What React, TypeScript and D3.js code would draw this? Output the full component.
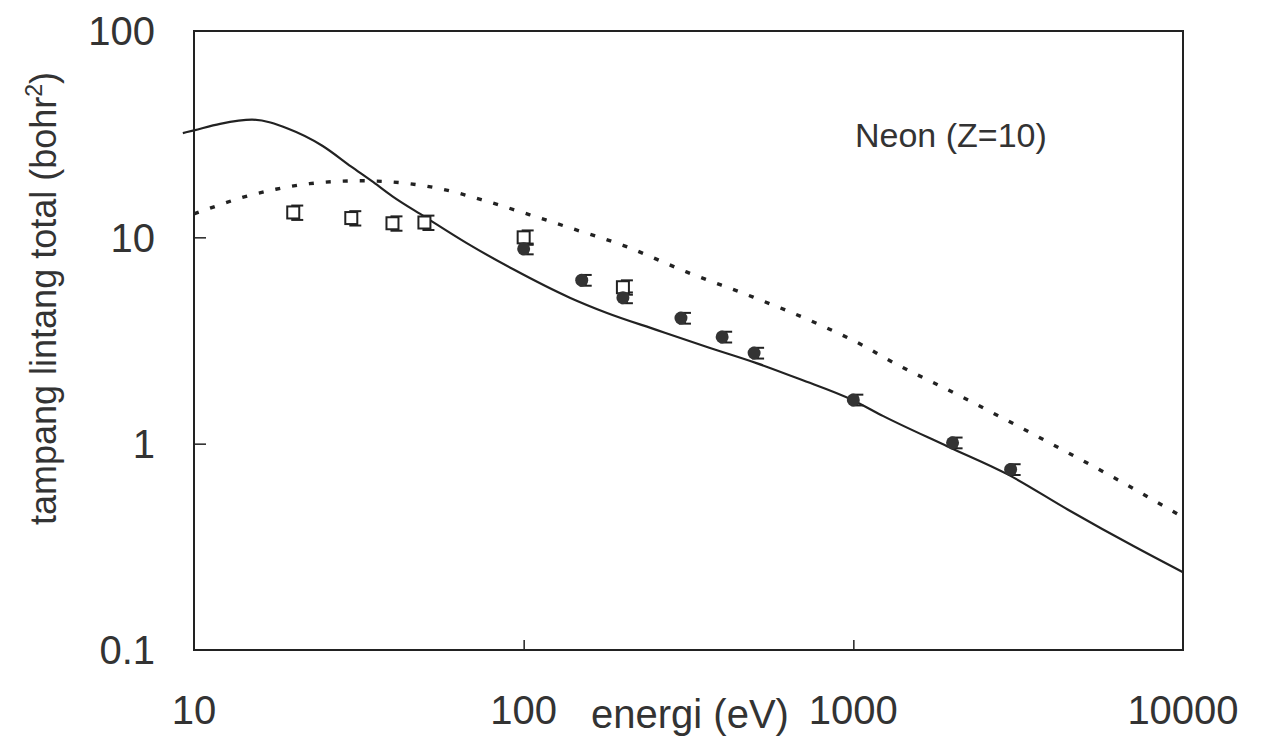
import { useRef, useEffect } from "react";
import * as d3 from "d3";

const WIDTH = 1261;
const HEIGHT = 754;
const LEFT = 194;
const RIGHT = 1183;
const TOP = 31;
const BOTTOM = 650;

const X_TICKS = [10, 100, 1000, 10000];
const Y_TICKS = [0.1, 1, 10, 100];

// teori (garis penuh)
const SOLID_E = [9.25, 10, 12, 15, 19.4, 24.5, 30, 35, 40, 50, 67, 93, 138, 179, 254, 360, 511, 690, 1000, 1233, 1931, 2939, 4467, 7096, 10000];
const SOLID_S = [32, 33, 35.5, 37.2, 33.5, 27.8, 22, 18.5, 15.8, 12.6, 9.4, 7.0, 5.1, 4.3, 3.55, 2.94, 2.45, 2.05, 1.62, 1.36, 0.97, 0.71, 0.48, 0.318, 0.238];

// teori (garis titik-titik)
const DOT_E = [10, 10.7, 14, 17.7, 22.4, 31.8, 45, 56.8, 78.9, 112, 141, 200, 313, 497, 794, 1104, 1233, 2158, 3890, 6166, 10000];
const DOT_S = [13.0, 13.5, 15.6, 17.1, 18.2, 18.8, 18.2, 17.1, 14.8, 12.4, 11.0, 9.15, 6.78, 5.13, 3.76, 2.91, 2.63, 1.67, 1.02, 0.685, 0.44];

// eksperimen (kotak terbuka)
const SQ_E = [20, 30, 40, 50, 100, 200];
const SQ_S = [13.2, 12.4, 11.7, 11.8, 10.0, 5.73];
const SQ_ERR = [0.08, 0.08, 0.08, 0.08, 0.08, 0.08];

// eksperimen (lingkaran penuh)
const CI_E = [100, 150, 200, 300, 400, 500, 1000, 2000, 3000];
const CI_S = [8.8, 6.2, 5.1, 4.06, 3.29, 2.75, 1.63, 1.01, 0.75];
const CI_ERR = [0.06, 0.06, 0.06, 0.06, 0.06, 0.06, 0.06, 0.06, 0.06];

const INK = "#222";
const TEXT = "#333";
const FONT = "'Liberation Sans', Arial, sans-serif";

export default function App() {
  const svgRef = useRef<SVGSVGElement>(null);

  useEffect(() => {
    const svg = d3.select(svgRef.current!);
    svg.selectAll("*").remove();

    const x = d3.scaleLog([10, 10000], [LEFT, RIGHT]);
    const y = d3.scaleLog([0.1, 100], [BOTTOM, TOP]);

    const line = d3.line<[number, number]>()
      .x(d => x(d[0]))
      .y(d => y(d[1]))
      .curve(d3.curveMonotoneX);

    const solid = SOLID_E.map((e, i) => [e, SOLID_S[i]] as [number, number]);
    const dotted = DOT_E.map((e, i) => [e, DOT_S[i]] as [number, number]);

    // kotak plot
    svg.append("rect")
      .attr("x", LEFT).attr("y", TOP)
      .attr("width", RIGHT - LEFT).attr("height", BOTTOM - TOP)
      .attr("fill", "none").attr("stroke", INK).attr("stroke-width", 2);

    // tick ke dalam
    const gx = svg.append("g")
      .attr("transform", `translate(0, ${BOTTOM})`)
      .call(d3.axisTop(x).tickValues(X_TICKS.slice(1, -1)).tickSize(10).tickFormat(() => ""));
    gx.select(".domain").remove();
    gx.selectAll("line").attr("stroke", INK).attr("stroke-width", 1.5);

    const gy = svg.append("g")
      .attr("transform", `translate(${LEFT}, 0)`)
      .call(d3.axisRight(y).tickValues(Y_TICKS.slice(1, -1)).tickSize(12).tickFormat(() => ""));
    gy.select(".domain").remove();
    gy.selectAll("line").attr("stroke", INK).attr("stroke-width", 1.5);

    // label tick
    svg.append("g").selectAll("text")
      .data(X_TICKS)
      .join("text")
      .attr("x", d => x(d))
      .attr("y", 724)
      .attr("text-anchor", "middle")
      .attr("font-family", FONT)
      .attr("font-size", 40)
      .attr("fill", TEXT)
      .text(d => String(d));

    svg.append("g").selectAll("text")
      .data(Y_TICKS)
      .join("text")
      .attr("x", 155)
      .attr("y", d => y(d))
      .attr("dy", "0.36em")
      .attr("text-anchor", "end")
      .attr("font-family", FONT)
      .attr("font-size", 40)
      .attr("fill", TEXT)
      .text(d => String(d));

    // judul sumbu
    svg.append("text")
      .attr("x", 690).attr("y", 728)
      .attr("text-anchor", "middle")
      .attr("font-family", FONT).attr("font-size", 40)
      .attr("fill", TEXT)
      .text("energi (eV)");

    const yt = svg.append("text")
      .attr("transform", `translate(56, ${(TOP + BOTTOM) / 2 - 42}) rotate(-90)`)
      .attr("text-anchor", "middle")
      .attr("font-family", FONT).attr("font-size", 36)
      .attr("fill", TEXT);
    yt.append("tspan").text("tampang lintang total (bohr");
    yt.append("tspan").attr("dy", -14).attr("font-size", 23).text("2");
    yt.append("tspan").attr("dy", 14).text(")");

    svg.append("text")
      .attr("x", 855).attr("y", 147)
      .attr("font-family", FONT).attr("font-size", 34)
      .attr("fill", TEXT)
      .text("Neon (Z=10)");

    // kurva
    const curves = svg.append("g");
    curves.append("path")
      .attr("d", line(solid))
      .attr("fill", "none").attr("stroke", INK).attr("stroke-width", 2.2);
    curves.append("path")
      .attr("d", line(dotted))
      .attr("fill", "none").attr("stroke", INK).attr("stroke-width", 3.4)
      .attr("stroke-dasharray", "5,12");

    // error bar
    const errBars = (es: number[], ss: number[], errs: number[]) => {
      const g = svg.append("g").attr("stroke", INK).attr("stroke-width", 2);
      es.forEach((e, i) => {
        const cx = x(e) + 4;
        const y0 = y(ss[i] * (1 + errs[i]));
        const y1 = y(ss[i] * (1 - errs[i]));
        g.append("line").attr("x1", cx).attr("x2", cx).attr("y1", y0).attr("y2", y1);
        g.append("line").attr("x1", cx - 6).attr("x2", cx + 6).attr("y1", y0).attr("y2", y0);
        g.append("line").attr("x1", cx - 6).attr("x2", cx + 6).attr("y1", y1).attr("y2", y1);
      });
    };
    errBars(SQ_E, SQ_S, SQ_ERR);
    errBars(CI_E, CI_S, CI_ERR);

    svg.append("g").selectAll("rect")
      .data(SQ_E.map((e, i) => [e, SQ_S[i]]))
      .join("rect")
      .attr("x", d => x(d[0]) - 6)
      .attr("y", d => y(d[1]) - 6)
      .attr("width", 12).attr("height", 12)
      .attr("fill", "white").attr("stroke", INK).attr("stroke-width", 2);

    svg.append("g").selectAll("circle")
      .data(CI_E.map((e, i) => [e, CI_S[i]]))
      .join("circle")
      .attr("cx", d => x(d[0]))
      .attr("cy", d => y(d[1]))
      .attr("r", 6.5)
      .attr("fill", "#333");
  }, []);

  return (
    <svg
      ref={svgRef}
      width={WIDTH}
      height={HEIGHT}
      style={{ position: "absolute", left: 0, top: 0, background: "white" }}
    />
  );
}
